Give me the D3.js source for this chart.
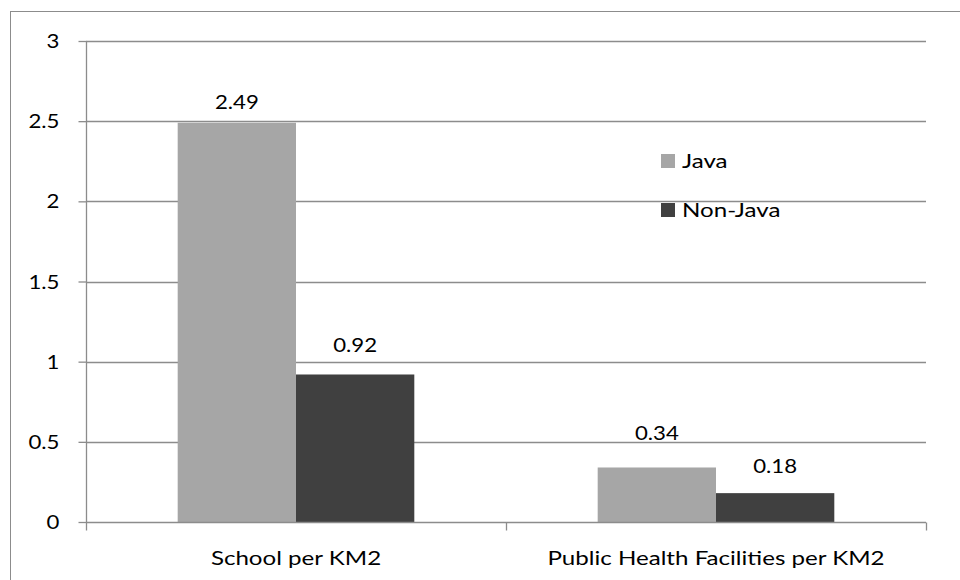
<!DOCTYPE html>
<html>
<head>
<meta charset="utf-8">
<script src="https://cdn.jsdelivr.net/npm/d3@7"></script>
<style>
  html, body { margin: 0; padding: 0; background: #fff; }
  svg text { font-family: Lato, "Open Sans", sans-serif; fill: #000; font-size: 19px; }
</style>
</head>
<body>
<svg id="chart" width="960" height="580"></svg>
<script>
// Density of facilities per square kilometre
const categories = ["School per KM2", "Public Health Facilities per KM2"];
const seriesNames = ["Java", "Non-Java"];
const javaValues = [2.49, 0.34];
const nonJavaValues = [0.92, 0.18];
const yTicks = [0, 0.5, 1, 1.5, 2, 2.5, 3];

// gap between each value label baseline and the top of its bar
const labelGap = [[14, 22], [27, 20]];
const colors = ["#a6a6a6", "#404040"];
const lineColor = "#8c8c8c";
// the chart's text is drawn widened horizontally
const wordStretch = 1.27, numStretch = 1.17;

const svg = d3.select("#chart");
const W = 960, H = 580;
const plot = { left: 86, right: 926, top: 41, bottom: 522 };

// place text at (x, y) and widen it horizontally about that anchor
function stretched(sel, x, y, sx) {
  sel.attr("x", 0).attr("y", 0)
    .attr("transform", (d, i, n) => `translate(${x(d, i, n)},${y(d, i, n)}) scale(${sx},1)`);
}

// outer chart frame
svg.append("rect")
  .attr("x", 10.5).attr("y", 11.5)
  .attr("width", W).attr("height", H)
  .attr("fill", "none").attr("stroke", lineColor).attr("stroke-width", 1);

const y = d3.scaleLinear().domain([0, 3]).range([plot.bottom, plot.top]);
const x0 = d3.scaleBand().domain(categories).range([plot.left, plot.right]);
const x1 = d3.scaleBand().domain(seriesNames).range([0, x0.bandwidth()]).paddingInner(0).paddingOuter(0.775);

// horizontal gridlines
svg.append("g").selectAll("line").data(yTicks.filter(d => d > 0)).join("line")
  .attr("x1", plot.left).attr("x2", plot.right)
  .attr("y1", d => Math.round(y(d)) + 0.5).attr("y2", d => Math.round(y(d)) + 0.5)
  .attr("stroke", lineColor).attr("stroke-width", 1.3);

// y axis
const yAxis = d3.axisLeft(y).tickValues(yTicks).tickSize(8).tickFormat(d3.format("~g"));
const gy = svg.append("g").attr("transform", `translate(${plot.left + 0.5},0)`).call(yAxis);
gy.attr("font-size", null).attr("font-family", null);
gy.select(".domain").attr("stroke", lineColor).attr("stroke-width", 1.3).attr("d", `M0,${plot.top}V${plot.bottom}`);
gy.selectAll(".tick line").attr("stroke", lineColor).attr("stroke-width", 1.3);
gy.selectAll(".tick text").attr("fill", "#000").attr("dy", "0.35em")
  .call(stretched, () => -27, () => 0, numStretch);

const data = categories.map((c, i) => ({
  cat: c, i,
  vals: [{ s: seriesNames[0], v: javaValues[i], k: 0 }, { s: seriesNames[1], v: nonJavaValues[i], k: 1 }]
}));

// bars
const groups = svg.append("g").selectAll("g").data(data).join("g")
  .attr("transform", d => `translate(${x0(d.cat)},0)`);

groups.selectAll("rect").data(d => d.vals.map(v => ({ ...v, i: d.i }))).join("rect")
  .attr("x", d => x1(d.s))
  .attr("y", d => y(d.v))
  .attr("width", x1.bandwidth())
  .attr("height", d => y(0) - y(d.v))
  .attr("fill", d => colors[d.k]);

// value labels
groups.selectAll("text.val").data(d => d.vals.map(v => ({ ...v, i: d.i }))).join("text")
  .attr("class", "val")
  .attr("text-anchor", "middle")
  .text(d => d.v)
  .call(stretched, d => x1(d.s) + x1.bandwidth() / 2, d => y(d.v) - labelGap[d.i][d.k], numStretch);

// x axis
const xAxis = d3.axisBottom(x0).tickSize(0);
const gx = svg.append("g").attr("transform", `translate(0,${plot.bottom + 0.5})`).call(xAxis);
gx.attr("font-size", null).attr("font-family", null);
gx.select(".domain").attr("stroke", lineColor).attr("stroke-width", 1.3).attr("d", `M${plot.left},0H${plot.right}`);
gx.selectAll(".tick text").attr("fill", "#000").attr("dy", null)
  .call(stretched, () => 0, () => 42, wordStretch);
// category boundary ticks
gx.append("g").selectAll("line").data([plot.left, x0(categories[1]), plot.right]).join("line")
  .attr("x1", d => d + 0.5).attr("x2", d => d + 0.5)
  .attr("y1", 0).attr("y2", 8)
  .attr("stroke", lineColor).attr("stroke-width", 1.3);

// legend
const legend = svg.append("g").attr("transform", "translate(661,154)");
const li = legend.selectAll("g").data(seriesNames).join("g")
  .attr("transform", (d, i) => `translate(0,${i * 49})`);
li.append("rect").attr("width", 14).attr("height", 14).attr("fill", (d, i) => colors[i]);
li.append("text").text(d => d)
  .call(stretched, () => 21, () => 14, wordStretch);
</script>
</body>
</html>
